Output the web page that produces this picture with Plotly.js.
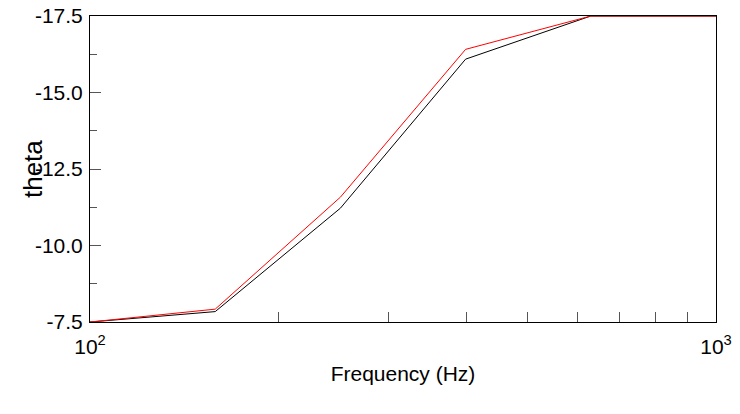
<!DOCTYPE html>
<html>
<head>
<meta charset="utf-8">
<script src="https://cdn.plot.ly/plotly-3.0.1.min.js"></script>
<style>html,body{margin:0;padding:0;background:#fff;}#chart{width:740px;height:414px;}</style>
</head>
<body>
<div id="chart"></div>
<script>
const freq = [100, 158.5, 251.2, 398.1, 631, 1000];
const thetaBlack = [-7.5, -7.84, -11.22, -16.09, -17.5, -17.5];
const thetaRed = [-7.5, -7.92, -11.58, -16.41, -17.5, -17.5];
const xTickVals = [100, 1000];
const xTickText = ["10<sup>2</sup>", "10<sup>3</sup>"];
const xMinorVals = [200, 300, 400, 500, 600, 700, 800, 900];
const yTickVals = [-7.5, -10, -12.5, -15, -17.5];
const yTickText = ["-7.5", "-10.0", "-12.5", "-15.0", "-17.5"];
const yMinorVals = [-8.75, -11.25, -13.75, -16.25];

const font = "Arial, 'Liberation Sans', sans-serif";
const traces = [
  {x: freq, y: thetaBlack, type: 'scatter', mode: 'lines', line: {color: '#000000', width: 1}, showlegend: false, cliponaxis: false},
  {x: freq, y: thetaRed, type: 'scatter', mode: 'lines', line: {color: '#ff0000', width: 1}, showlegend: false, cliponaxis: false}
];
const layout = {
  width: 740, height: 414,
  margin: {l: 90, r: 24, t: 16, b: 92},
  paper_bgcolor: '#fff', plot_bgcolor: '#fff',
  font: {family: font, color: '#000'},
  xaxis: {
    type: 'log', range: [2, 3],
    tickvals: xTickVals, ticktext: xTickText,
    ticks: 'inside', ticklen: 10, tickwidth: 1, tickcolor: '#555',
    minor: {tickvals: xMinorVals, ticks: 'inside', ticklen: 10, tickwidth: 1, tickcolor: '#555', showgrid: false},
    ticklabelstandoff: 6,
    showline: true, linecolor: '#000', linewidth: 1, mirror: true,
    showgrid: false, zeroline: false,
    tickfont: {size: 21, family: font},
    title: {text: 'Frequency (Hz)', font: {size: 21, family: font}, standoff: 9}
  },
  yaxis: {
    range: [-7.5, -17.5],
    tickvals: yTickVals, ticktext: yTickText,
    ticks: 'inside', ticklen: 11, tickwidth: 1, tickcolor: '#555',
    minor: {tickvals: yMinorVals, ticks: 'inside', ticklen: 7, tickwidth: 1, tickcolor: '#555', showgrid: false},
    ticklabelstandoff: 2,
    showline: true, linecolor: '#000', linewidth: 1, mirror: true,
    showgrid: false, zeroline: false,
    tickfont: {size: 21, family: font}
  },
  annotations: [{
    text: 'theta', xref: 'paper', yref: 'paper', x: -0.091, y: 0.5,
    xanchor: 'center', yanchor: 'middle', textangle: -90, showarrow: false,
    font: {size: 26, family: font, color: '#000'}
  }]
};
Plotly.newPlot('chart', traces, layout, {displayModeBar: false, staticPlot: true});
</script>
</body>
</html>
